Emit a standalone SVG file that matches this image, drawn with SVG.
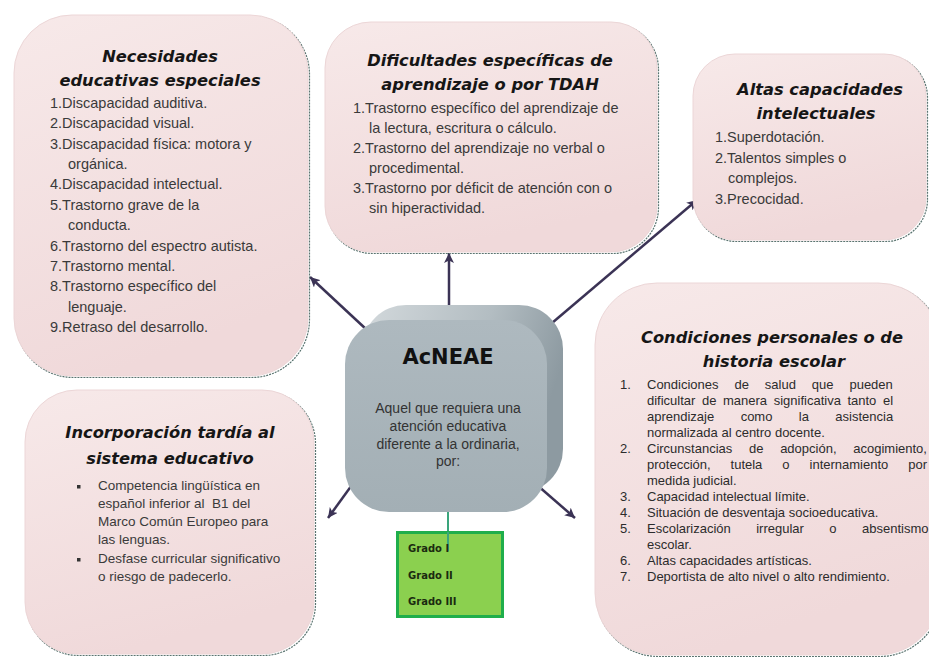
<svg xmlns="http://www.w3.org/2000/svg" width="929" height="664" viewBox="0 0 929 664">
<defs>
<linearGradient id="pink" x1="0" y1="0" x2="0.3" y2="1">
<stop offset="0" stop-color="#f7e9e9"/>
<stop offset="1" stop-color="#f0d9da"/>
</linearGradient>
<linearGradient id="back" x1="0" y1="0" x2="1" y2="0.3">
<stop offset="0" stop-color="#d3d9dc"/>
<stop offset="0.6" stop-color="#b3bdc2"/>
<stop offset="1" stop-color="#8d9aa1"/>
</linearGradient>
<linearGradient id="front" x1="0" y1="0" x2="0" y2="1">
<stop offset="0" stop-color="#aeb9bf"/>
<stop offset="1" stop-color="#a3afb5"/>
</linearGradient>
<marker id="arr" markerUnits="userSpaceOnUse" markerWidth="12" markerHeight="10" refX="10" refY="5" orient="auto">
<path d="M0,0 L10,5 L0,10 L2.5,5 Z" fill="#3b3355"/>
</marker>
<style>
.edge{fill:none;stroke:#5a7470;stroke-width:1.2;stroke-dasharray:2 1}
.box{fill:url(#pink);stroke:#ecd6d7;stroke-width:1}
.t{font-family:"DejaVu Sans",Verdana,sans-serif;font-weight:bold;font-style:italic;font-size:16.3px;fill:#161616;text-anchor:middle}
.b{font-family:"Liberation Sans",Arial,sans-serif;font-size:14.5px;fill:#3a3a3a}
.s{font-family:"Liberation Sans",Arial,sans-serif;font-size:13.5px;fill:#3a3a3a}
.r{font-family:"Liberation Sans",Arial,sans-serif;font-size:13px;fill:#2c2c2c}
.c{font-family:"Liberation Sans",Arial,sans-serif;font-size:14px;fill:#333;text-anchor:middle}
.h{font-family:"DejaVu Sans",Verdana,sans-serif;font-weight:bold;font-size:21px;fill:#111;text-anchor:middle}
.g{font-family:"DejaVu Sans",Verdana,sans-serif;font-weight:bold;font-size:10px;fill:#1b2a10}
.ln{stroke:#3b3355;stroke-width:2.5;fill:none;marker-end:url(#arr)}
</style>
</defs>
<rect width="929" height="664" fill="#ffffff"/>

<g id="connectors">
<line class="ln" x1="367" y1="330" x2="310" y2="277"/>
<line class="ln" x1="449" y1="305" x2="449" y2="253"/>
<line class="ln" x1="552" y1="323" x2="697" y2="200"/>
<line class="ln" x1="357" y1="478" x2="328" y2="518"/>
<line class="ln" x1="537" y1="485" x2="575" y2="518"/>
<line x1="448" y1="505" x2="448" y2="551" stroke="#3aa57c" stroke-width="2"/>
</g>

<g id="nee">
<rect class="edge" x="15.5" y="16.5" width="294" height="361" rx="58"/>
<rect class="box" x="14" y="15" width="294" height="361" rx="58"/>
<text class="t" x="160" y="62">Necesidades</text>
<text class="t" x="160" y="86">educativas especiales</text>
<text class="b" x="50" y="108">1.Discapacidad auditiva.</text>
<text class="b" x="50" y="128.4">2.Discapacidad visual.</text>
<text class="b" x="50" y="148.7">3.Discapacidad física: motora y</text>
<text class="b" x="68" y="169">orgánica.</text>
<text class="b" x="50" y="189.4">4.Discapacidad intelectual.</text>
<text class="b" x="50" y="209.7">5.Trastorno grave de la</text>
<text class="b" x="68" y="230">conducta.</text>
<text class="b" x="50" y="250.5">6.Trastorno del espectro autista.</text>
<text class="b" x="50" y="270.8">7.Trastorno mental.</text>
<text class="b" x="50" y="291">8.Trastorno específico del</text>
<text class="b" x="68" y="311.5">lenguaje.</text>
<text class="b" x="50" y="332">9.Retraso del desarrollo.</text>
</g>

<g id="dea">
<rect class="edge" x="326.5" y="23.5" width="332" height="230" rx="46"/>
<rect class="box" x="325" y="22" width="332" height="230" rx="46"/>
<text class="t" x="490" y="66">Dificultades específicas de</text>
<text class="t" x="490" y="90">aprendizaje o por TDAH</text>
<text class="b" x="353" y="113">1.Trastorno específico del aprendizaje de</text>
<text class="b" x="369" y="133">la lectura, escritura o cálculo.</text>
<text class="b" x="353" y="153">2.Trastorno del aprendizaje no verbal o</text>
<text class="b" x="369" y="173">procedimental.</text>
<text class="b" x="353" y="193">3.Trastorno por déficit de atención con o</text>
<text class="b" x="369" y="213">sin hiperactividad.</text>
</g>

<g id="altas">
<rect class="edge" x="694.5" y="55.5" width="233" height="186" rx="42"/>
<rect class="box" x="693" y="54" width="233" height="186" rx="42"/>
<text class="t" x="820" y="95">Altas capacidades</text>
<text class="t" x="816" y="119">intelectuales</text>
<text class="b" x="715" y="142">1.Superdotación.</text>
<text class="b" x="715" y="162.6">2.Talentos simples o</text>
<text class="b" x="728" y="183.2">complejos.</text>
<text class="b" x="715" y="203.8">3.Precocidad.</text>
</g>

<g id="acneae">
<rect x="362" y="305" width="201" height="188" rx="44" fill="url(#back)"/>
<rect x="345" y="320" width="202" height="192" rx="44" fill="url(#front)"/>
<text class="h" x="448" y="364">AcNEAE</text>
<text class="c" x="448" y="413">Aquel que requiera una</text>
<text class="c" x="448" y="431">atención educativa</text>
<text class="c" x="448" y="448.5">diferente a la ordinaria,</text>
<text class="c" x="448" y="466">por:</text>
</g>

<g id="grados">
<rect x="397.5" y="532.5" width="105" height="84" fill="#8bd04f" stroke="#1fae4b" stroke-width="3"/>
<line x1="448" y1="532" x2="448" y2="551" stroke="#3aa57c" stroke-width="2"/>
<text class="g" x="408" y="552">Grado I</text>
<text class="g" x="408" y="579">Grado II</text>
<text class="g" x="408" y="605">Grado III</text>
</g>

<g id="tardia">
<rect class="edge" x="26.5" y="391.5" width="289" height="264" rx="52"/>
<rect class="box" x="25" y="390" width="289" height="264" rx="52"/>
<text class="t" x="170" y="438">Incorporación tardía al</text>
<text class="t" x="170" y="464">sistema educativo</text>
<rect x="77" y="485" width="3.5" height="3.5" fill="#333"/>
<text class="s" x="98" y="490">Competencia lingüística en</text>
<text class="s" x="98" y="508" xml:space="preserve">español inferior al  B1 del</text>
<text class="s" x="98" y="526">Marco Común Europeo para</text>
<text class="s" x="98" y="544">las lenguas.</text>
<rect x="77" y="558" width="3.5" height="3.5" fill="#333"/>
<text class="s" x="98" y="563">Desfase curricular significativo</text>
<text class="s" x="98" y="581">o riesgo de padecerlo.</text>
</g>

<g id="condiciones">
<rect class="edge" x="596.5" y="284.5" width="345" height="372" rx="62"/>
<rect class="box" x="595" y="283" width="345" height="372" rx="62"/>
<text class="t" x="772" y="343">Condiciones personales o de</text>
<text class="t" x="774" y="367">historia escolar</text>
<text class="r" x="620" y="389">1.</text>
<text class="r" x="647" y="389" word-spacing="12.3">Condiciones de salud que pueden</text>
<text class="r" x="647" y="405" word-spacing="2.96">dificultar de manera significativa tanto el</text>
<text class="r" x="647" y="421" word-spacing="22.8">aprendizaje como la asistencia</text>
<text class="r" x="647" y="437">normalizada al centro docente.</text>
<text class="r" x="620" y="453">2.</text>
<text class="r" x="647" y="453" word-spacing="13.1">Circunstancias de adopción, acogimiento,</text>
<text class="r" x="647" y="469" word-spacing="16.35">protección, tutela o internamiento por</text>
<text class="r" x="647" y="485">medida judicial.</text>
<text class="r" x="620" y="501">3.</text>
<text class="r" x="647" y="501">Capacidad intelectual límite.</text>
<text class="r" x="620" y="517">4.</text>
<text class="r" x="647" y="517">Situación de desventaja socioeducativa.</text>
<text class="r" x="620" y="533">5.</text>
<text class="r" x="647" y="533" word-spacing="21.8">Escolarización irregular o absentismo</text>
<text class="r" x="647" y="549">escolar.</text>
<text class="r" x="620" y="565">6.</text>
<text class="r" x="647" y="565">Altas capacidades artísticas.</text>
<text class="r" x="620" y="581">7.</text>
<text class="r" x="647" y="581">Deportista de alto nivel o alto rendimiento.</text>
</g>
</svg>
